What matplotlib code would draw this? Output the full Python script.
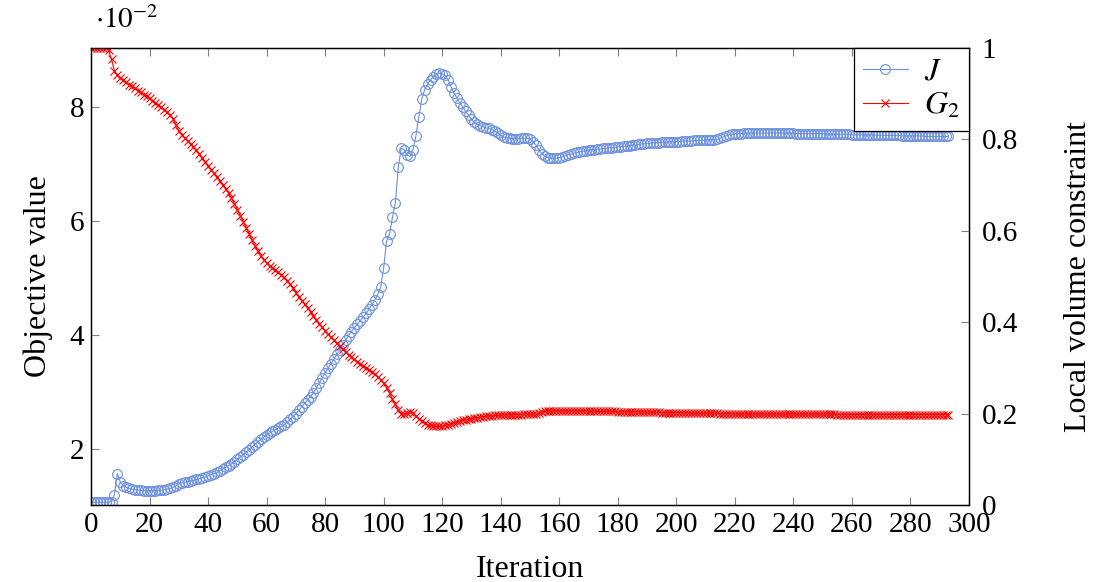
import matplotlib
matplotlib.use("Agg")
import matplotlib.pyplot as plt

plt.rcParams['font.family'] = ['Liberation Serif', 'DejaVu Serif']
plt.rcParams['mathtext.fontset'] = 'stix'

# objective J (in units of 1e-2), one value per iteration 0..293
J = [
    1.07, 1.07, 1.07, 1.07, 1.07, 1.07, 1.07, 1.08, 1.20, 1.57,
    1.42, 1.36, 1.33, 1.31, 1.30, 1.29, 1.28, 1.28, 1.27, 1.27,
    1.27, 1.27, 1.27, 1.28, 1.28, 1.29, 1.30, 1.31, 1.33, 1.36,
    1.39, 1.41, 1.42, 1.43, 1.44, 1.45, 1.47, 1.48, 1.50, 1.51,
    1.53, 1.55, 1.57, 1.59, 1.62, 1.65, 1.68, 1.71, 1.74, 1.78,
    1.82, 1.86, 1.90, 1.95, 1.99, 2.04, 2.08, 2.13, 2.17, 2.21,
    2.25, 2.28, 2.31, 2.34, 2.37, 2.40, 2.43, 2.47, 2.52, 2.57,
    2.62, 2.68, 2.74, 2.80, 2.86, 2.92, 2.99, 3.07, 3.16, 3.25,
    3.34, 3.42, 3.50, 3.58, 3.66, 3.74, 3.83, 3.91, 3.99, 4.06,
    4.13, 4.19, 4.25, 4.31, 4.38, 4.45, 4.53, 4.62, 4.71, 4.84,
    5.18, 5.65, 5.77, 6.06, 6.32, 6.95, 7.27, 7.25, 7.15, 7.13,
    7.25, 7.49, 7.82, 8.13, 8.30, 8.40, 8.47, 8.53, 8.57, 8.59,
    8.58, 8.55, 8.47, 8.35, 8.24, 8.16, 8.07, 8.00, 7.92, 7.85,
    7.78, 7.73, 7.69, 7.67, 7.65, 7.63, 7.62, 7.60, 7.57, 7.54,
    7.50, 7.47, 7.46, 7.45, 7.44, 7.44, 7.44, 7.45, 7.45, 7.45,
    7.43, 7.39, 7.33, 7.25, 7.18, 7.14, 7.11, 7.10, 7.10, 7.10,
    7.11, 7.12, 7.14, 7.16, 7.17, 7.19, 7.20, 7.21, 7.22, 7.23,
    7.24, 7.25, 7.25, 7.26, 7.26, 7.27, 7.27, 7.28, 7.28, 7.29,
    7.30, 7.30, 7.31, 7.31, 7.32, 7.33, 7.33, 7.34, 7.35, 7.35,
    7.36, 7.36, 7.37, 7.37, 7.37, 7.38, 7.38, 7.38, 7.39, 7.39,
    7.39, 7.39, 7.40, 7.40, 7.40, 7.40, 7.41, 7.41, 7.41, 7.41,
    7.42, 7.42, 7.42, 7.42, 7.43, 7.45, 7.47, 7.49, 7.51, 7.52,
    7.53, 7.53, 7.53, 7.54, 7.54, 7.54, 7.54, 7.54, 7.54, 7.54,
    7.54, 7.54, 7.54, 7.54, 7.54, 7.54, 7.54, 7.54, 7.54, 7.54,
    7.54, 7.53, 7.53, 7.53, 7.53, 7.53, 7.53, 7.53, 7.53, 7.53,
    7.53, 7.52, 7.52, 7.52, 7.52, 7.52, 7.52, 7.52, 7.52, 7.52,
    7.51, 7.51, 7.51, 7.51, 7.51, 7.51, 7.51, 7.51, 7.50, 7.50,
    7.50, 7.50, 7.50, 7.50, 7.50, 7.50, 7.50, 7.49, 7.49, 7.49,
    7.49, 7.49, 7.49, 7.49, 7.49, 7.48, 7.48, 7.48, 7.48, 7.48,
    7.48, 7.48, 7.48, 7.48,
]

# local volume constraint G2, iterations 0..293
G2 = [
    1.0, 1.0, 1.0, 1.0, 1.0, 1.0, 0.995, 0.975, 0.95, 0.94,
    0.935, 0.93, 0.925, 0.92, 0.916, 0.912, 0.907, 0.903, 0.898, 0.894,
    0.89, 0.885, 0.88, 0.875, 0.87, 0.865, 0.86, 0.853, 0.845, 0.832,
    0.818, 0.81, 0.803, 0.796, 0.79, 0.783, 0.776, 0.768, 0.76, 0.751,
    0.742, 0.734, 0.726, 0.717, 0.708, 0.70, 0.692, 0.683, 0.671, 0.659,
    0.646, 0.633, 0.62, 0.607, 0.594, 0.58, 0.567, 0.555, 0.545, 0.537,
    0.53, 0.524, 0.519, 0.514, 0.509, 0.504, 0.498, 0.491, 0.483, 0.474,
    0.465, 0.455, 0.447, 0.439, 0.431, 0.423, 0.414, 0.405, 0.397, 0.389,
    0.381, 0.374, 0.367, 0.36, 0.354, 0.347, 0.341, 0.335, 0.329, 0.324,
    0.319, 0.314, 0.309, 0.304, 0.30, 0.296, 0.291, 0.286, 0.28, 0.274,
    0.266, 0.257, 0.245, 0.232, 0.22, 0.208, 0.20, 0.199, 0.201, 0.203,
    0.201, 0.195, 0.189, 0.184, 0.179, 0.176, 0.174, 0.173, 0.172, 0.172,
    0.173, 0.174, 0.176, 0.178, 0.18, 0.182, 0.184, 0.186, 0.187, 0.188,
    0.189, 0.19, 0.191, 0.192, 0.193, 0.194, 0.195, 0.195, 0.196, 0.196,
    0.197, 0.197, 0.197, 0.198, 0.198, 0.198, 0.198, 0.198, 0.199, 0.199,
    0.199, 0.199, 0.200, 0.201, 0.203, 0.205, 0.206, 0.206, 0.206, 0.206,
    0.206, 0.206, 0.206, 0.206, 0.206, 0.206, 0.206, 0.206, 0.206, 0.206,
    0.206, 0.206, 0.205, 0.205, 0.205, 0.205, 0.205, 0.205, 0.205, 0.205,
    0.204, 0.204, 0.204, 0.204, 0.204, 0.204, 0.204, 0.204, 0.204, 0.204,
    0.203, 0.203, 0.203, 0.203, 0.203, 0.202, 0.202, 0.202, 0.202, 0.202,
    0.202, 0.202, 0.202, 0.202, 0.202, 0.201, 0.201, 0.201, 0.201, 0.201,
    0.201, 0.201, 0.201, 0.201, 0.201, 0.200, 0.200, 0.200, 0.200, 0.200,
    0.199, 0.199, 0.199, 0.199, 0.199, 0.199, 0.199, 0.199, 0.199, 0.199,
    0.199, 0.199, 0.199, 0.199, 0.199, 0.199, 0.199, 0.199, 0.199, 0.199,
    0.199, 0.199, 0.199, 0.199, 0.199, 0.199, 0.199, 0.199, 0.199, 0.199,
    0.199, 0.199, 0.199, 0.199, 0.199, 0.198, 0.198, 0.198, 0.198, 0.198,
    0.198, 0.198, 0.198, 0.198, 0.198, 0.198, 0.198, 0.198, 0.198, 0.198,
    0.198, 0.198, 0.198, 0.198, 0.198, 0.198, 0.198, 0.198, 0.198, 0.198,
    0.198, 0.198, 0.198, 0.198, 0.198, 0.198, 0.198, 0.198, 0.198, 0.198,
    0.198, 0.198, 0.198, 0.198,
]

it = list(range(len(J)))

x_ticks = [0, 20, 40, 60, 80, 100, 120, 140, 160, 180, 200, 220, 240, 260, 280, 300]
left_ticks = [2, 4, 6, 8]
right_ticks = [0, 0.2, 0.4, 0.6, 0.8, 1]
right_labels = ['0', '0.2', '0.4', '0.6', '0.8', '1']

blue = '#6a8fdd'
red = '#ff0000'
fs = 21

fig = plt.figure(figsize=(10.98, 5.82), dpi=100)
ax = fig.add_axes([0.0829, 0.1323, 0.7996, 0.7852])
ax2 = ax.twinx()

l1, = ax.plot(it, J, color=blue, lw=0.8, marker='o', ms=7,
              mfc='none', mec=blue, mew=0.8, label='$J$')
l2, = ax2.plot(it, G2, color=red, lw=0.8, marker='x', ms=5.5,
               mec=red, mew=0.8, label='$G_2$')

ax.set_xlim(0, 300)
ax.set_ylim(1.02, 9.03)
ax2.set_ylim(0, 1)

ax.set_xticks(x_ticks)
ax.set_yticks(left_ticks)
ax2.set_yticks(right_ticks)
ax2.set_yticklabels(right_labels)

for a in (ax, ax2):
    a.tick_params(direction='in', length=6, width=0.8, color='#808080',
                  labelsize=fs, pad=5)
    for s in a.spines.values():
        s.set_linewidth(0.9)
ax.tick_params(axis='x', top=True)
ax2.tick_params(axis='y', pad=9)

ax.set_xlabel('Iteration', fontsize=fs + 2, labelpad=12)
ax.set_ylabel('Objective value', fontsize=fs + 2, labelpad=12)
ax2.set_ylabel('Local volume constraint', fontsize=fs + 2, labelpad=33)
ax.text(0.005, 1.03, r'$\cdot10^{-2}$', transform=ax.transAxes,
        fontsize=fs, ha='left', va='bottom')

leg = ax2.legend(handles=[l1, l2], loc='upper right', fontsize=23,
                 frameon=True, fancybox=False, framealpha=1,
                 edgecolor='black', borderaxespad=0, handlelength=1.4,
                 borderpad=0.3, labelspacing=0.15, handletextpad=0.5)
leg.get_frame().set_linewidth(0.9)

fig.savefig('out.png', dpi=100)
